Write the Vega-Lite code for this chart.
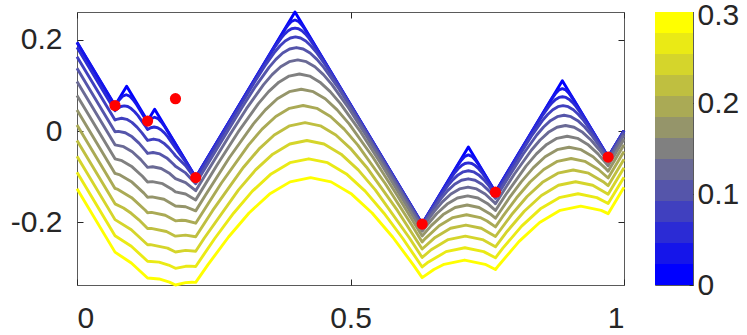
{
"$schema": "https://vega.github.io/schema/vega-lite/v6.json",
"padding": {"left": 9, "top": -1, "right": 0, "bottom": 0},
"spacing": 28,
"config": {
 "font": "Liberation Sans",
 "view": {"stroke": "#5a5a5a", "strokeWidth": 1},
 "axis": {"labelFontSize": 30, "labelColor": "#262626", "labelFont": "Liberation Sans", "tickColor": "#262626", "tickSize": -6, "domain": false, "grid": false, "title": null, "labelPadding": 12, "format": "~g"}
},
"datasets": {
"dots": [{"x":0.0695,"y":0.056},{"x":0.129,"y":0.022},{"x":0.18,"y":0.071},{"x":0.217,"y":-0.102},{"x":0.631,"y":-0.204},{"x":0.765,"y":-0.134},{"x":0.971,"y":-0.057}],
"bands": [{"t":0,"lo":0,"hi":0.02308},{"t":0.025,"lo":0.02308,"hi":0.04615},{"t":0.05,"lo":0.04615,"hi":0.06923},{"t":0.075,"lo":0.06923,"hi":0.09231},{"t":0.1,"lo":0.09231,"hi":0.11538},{"t":0.125,"lo":0.11538,"hi":0.13846},{"t":0.15,"lo":0.13846,"hi":0.16154},{"t":0.175,"lo":0.16154,"hi":0.18462},{"t":0.2,"lo":0.18462,"hi":0.20769},{"t":0.225,"lo":0.20769,"hi":0.23077},{"t":0.25,"lo":0.23077,"hi":0.25385},{"t":0.275,"lo":0.25385,"hi":0.27692},{"t":0.3,"lo":0.27692,"hi":0.3}],
"lines": [
{"t":0,"x":0,"y":0.195},{"t":0,"x":0.0695,"y":0.056},{"t":0,"x":0.0908,"y":0.0985},{"t":0,"x":0.129,"y":0.022},{"t":0,"x":0.142,"y":0.048},{"t":0,"x":0.217,"y":-0.102},{"t":0,"x":0.3985,"y":0.261},{"t":0,"x":0.631,"y":-0.204},{"t":0,"x":0.7155,"y":-0.035},{"t":0,"x":0.765,"y":-0.134},{"t":0,"x":0.8873,"y":0.1105},{"t":0,"x":0.971,"y":-0.057},{"t":0,"x":1,"y":0.001},

{"t":0.025,"x":0,"y":0.1941},{"t":0.025,"x":0.0695,"y":0.0551},{"t":0.025,"x":0.0712,"y":0.0583},{"t":0.025,"x":0.0775,"y":0.0688},{"t":0.025,"x":0.0837,"y":0.0767},{"t":0.025,"x":0.09,"y":0.0797},{"t":0.025,"x":0.0963,"y":0.0767},{"t":0.025,"x":0.1025,"y":0.0688},{"t":0.025,"x":0.1088,"y":0.0583},{"t":0.025,"x":0.129,"y":0.019},{"t":0.025,"x":0.1356,"y":0.0274},{"t":0.025,"x":0.1419,"y":0.0304},{"t":0.025,"x":0.1482,"y":0.0274},{"t":0.025,"x":0.1544,"y":0.0195},{"t":0.025,"x":0.1607,"y":0.009},{"t":0.025,"x":0.18,"y":-0.0286},{"t":0.025,"x":0.1985,"y":-0.0649},{"t":0.025,"x":0.217,"y":-0.102},{"t":0.025,"x":0.3797,"y":0.2223},{"t":0.025,"x":0.386,"y":0.2328},{"t":0.025,"x":0.3922,"y":0.2407},{"t":0.025,"x":0.3985,"y":0.2437},{"t":0.025,"x":0.4048,"y":0.2407},{"t":0.025,"x":0.411,"y":0.2328},{"t":0.025,"x":0.4173,"y":0.2223},{"t":0.025,"x":0.631,"y":-0.204},{"t":0.025,"x":0.6967,"y":-0.0737},{"t":0.025,"x":0.703,"y":-0.0632},{"t":0.025,"x":0.7092,"y":-0.0553},{"t":0.025,"x":0.7155,"y":-0.0523},{"t":0.025,"x":0.7218,"y":-0.0553},{"t":0.025,"x":0.728,"y":-0.0632},{"t":0.025,"x":0.7343,"y":-0.0737},{"t":0.025,"x":0.765,"y":-0.134},{"t":0.025,"x":0.8685,"y":0.0718},{"t":0.025,"x":0.8748,"y":0.0823},{"t":0.025,"x":0.881,"y":0.0902},{"t":0.025,"x":0.8873,"y":0.0932},{"t":0.025,"x":0.8936,"y":0.0902},{"t":0.025,"x":0.8998,"y":0.0823},{"t":0.025,"x":0.9061,"y":0.0718},{"t":0.025,"x":0.971,"y":-0.057},{"t":0.025,"x":1,"y":0.001},

{"t":0.05,"x":0,"y":0.1836},{"t":0.05,"x":0.0695,"y":0.0446},{"t":0.05,"x":0.074,"y":0.0494},{"t":0.05,"x":0.0802,"y":0.0539},{"t":0.05,"x":0.0865,"y":0.0554},{"t":0.05,"x":0.0928,"y":0.0539},{"t":0.05,"x":0.099,"y":0.0494},{"t":0.05,"x":0.1053,"y":0.0425},{"t":0.05,"x":0.1115,"y":0.0338},{"t":0.05,"x":0.124,"y":0.0127},{"t":0.05,"x":0.129,"y":0.0035},{"t":0.05,"x":0.1347,"y":0.0074},{"t":0.05,"x":0.141,"y":0.0089},{"t":0.05,"x":0.1473,"y":0.0074},{"t":0.05,"x":0.1535,"y":0.0029},{"t":0.05,"x":0.1598,"y":-0.004},{"t":0.05,"x":0.166,"y":-0.0127},{"t":0.05,"x":0.18,"y":-0.0367},{"t":0.05,"x":0.1985,"y":-0.0671},{"t":0.05,"x":0.217,"y":-0.1025},{"t":0.05,"x":0.3486,"y":0.1598},{"t":0.05,"x":0.3611,"y":0.1833},{"t":0.05,"x":0.3736,"y":0.2044},{"t":0.05,"x":0.3798,"y":0.2131},{"t":0.05,"x":0.3861,"y":0.22},{"t":0.05,"x":0.3923,"y":0.2245},{"t":0.05,"x":0.3986,"y":0.226},{"t":0.05,"x":0.4049,"y":0.2245},{"t":0.05,"x":0.4111,"y":0.22},{"t":0.05,"x":0.4174,"y":0.2131},{"t":0.05,"x":0.4236,"y":0.2044},{"t":0.05,"x":0.4361,"y":0.1833},{"t":0.05,"x":0.4486,"y":0.1598},{"t":0.05,"x":0.631,"y":-0.2041},{"t":0.05,"x":0.6655,"y":-0.1359},{"t":0.05,"x":0.678,"y":-0.1124},{"t":0.05,"x":0.6905,"y":-0.0913},{"t":0.05,"x":0.6967,"y":-0.0826},{"t":0.05,"x":0.703,"y":-0.0757},{"t":0.05,"x":0.7092,"y":-0.0712},{"t":0.05,"x":0.7155,"y":-0.0697},{"t":0.05,"x":0.7218,"y":-0.0712},{"t":0.05,"x":0.728,"y":-0.0757},{"t":0.05,"x":0.7343,"y":-0.0826},{"t":0.05,"x":0.7405,"y":-0.0913},{"t":0.05,"x":0.753,"y":-0.1124},{"t":0.05,"x":0.765,"y":-0.1349},{"t":0.05,"x":0.8375,"y":0.0092},{"t":0.05,"x":0.85,"y":0.0327},{"t":0.05,"x":0.8625,"y":0.0538},{"t":0.05,"x":0.8687,"y":0.0625},{"t":0.05,"x":0.875,"y":0.0694},{"t":0.05,"x":0.8812,"y":0.0739},{"t":0.05,"x":0.8875,"y":0.0754},{"t":0.05,"x":0.8938,"y":0.0739},{"t":0.05,"x":0.9,"y":0.0694},{"t":0.05,"x":0.9063,"y":0.0625},{"t":0.05,"x":0.9125,"y":0.0538},{"t":0.05,"x":0.925,"y":0.0327},{"t":0.05,"x":0.9375,"y":0.0092},{"t":0.05,"x":0.971,"y":-0.0571},{"t":0.05,"x":1,"y":0.0009},

{"t":0.075,"x":0,"y":0.1633},{"t":0.075,"x":0.0695,"y":0.0243},{"t":0.075,"x":0.0722,"y":0.0258},{"t":0.075,"x":0.0816,"y":0.0281},{"t":0.075,"x":0.091,"y":0.0258},{"t":0.075,"x":0.1004,"y":0.0191},{"t":0.075,"x":0.1097,"y":0.0087},{"t":0.075,"x":0.1191,"y":-0.0044},{"t":0.075,"x":0.129,"y":-0.0205},{"t":0.075,"x":0.1399,"y":-0.0175},{"t":0.075,"x":0.1493,"y":-0.0198},{"t":0.075,"x":0.1587,"y":-0.0265},{"t":0.075,"x":0.168,"y":-0.0369},{"t":0.075,"x":0.1774,"y":-0.05},{"t":0.075,"x":0.18,"y":-0.0541},{"t":0.075,"x":0.1985,"y":-0.0757},{"t":0.075,"x":0.217,"y":-0.1062},{"t":0.075,"x":0.3244,"y":0.1071},{"t":0.075,"x":0.3431,"y":0.1424},{"t":0.075,"x":0.3619,"y":0.174},{"t":0.075,"x":0.3713,"y":0.1871},{"t":0.075,"x":0.3806,"y":0.1975},{"t":0.075,"x":0.39,"y":0.2042},{"t":0.075,"x":0.3994,"y":0.2065},{"t":0.075,"x":0.4088,"y":0.2042},{"t":0.075,"x":0.4182,"y":0.1975},{"t":0.075,"x":0.4275,"y":0.1871},{"t":0.075,"x":0.4369,"y":0.174},{"t":0.075,"x":0.4557,"y":0.1424},{"t":0.075,"x":0.4744,"y":0.1071},{"t":0.075,"x":0.631,"y":-0.2048},{"t":0.075,"x":0.6405,"y":-0.1865},{"t":0.075,"x":0.6592,"y":-0.1512},{"t":0.075,"x":0.678,"y":-0.1196},{"t":0.075,"x":0.6874,"y":-0.1065},{"t":0.075,"x":0.6967,"y":-0.0961},{"t":0.075,"x":0.7061,"y":-0.0894},{"t":0.075,"x":0.7155,"y":-0.0871},{"t":0.075,"x":0.7249,"y":-0.0894},{"t":0.075,"x":0.7343,"y":-0.0961},{"t":0.075,"x":0.7436,"y":-0.1065},{"t":0.075,"x":0.753,"y":-0.1196},{"t":0.075,"x":0.765,"y":-0.1393},{"t":0.075,"x":0.8136,"y":-0.0435},{"t":0.075,"x":0.8323,"y":-0.0082},{"t":0.075,"x":0.8511,"y":0.0234},{"t":0.075,"x":0.8605,"y":0.0365},{"t":0.075,"x":0.8698,"y":0.0469},{"t":0.075,"x":0.8792,"y":0.0536},{"t":0.075,"x":0.8886,"y":0.0559},{"t":0.075,"x":0.898,"y":0.0536},{"t":0.075,"x":0.9074,"y":0.0469},{"t":0.075,"x":0.9167,"y":0.0365},{"t":0.075,"x":0.9261,"y":0.0234},{"t":0.075,"x":0.9449,"y":-0.0082},{"t":0.075,"x":0.9636,"y":-0.0435},{"t":0.075,"x":0.971,"y":-0.0579},{"t":0.075,"x":1,"y":0.0001},

{"t":0.1,"x":0,"y":0.1376},{"t":0.1,"x":0.0695,"y":-0.0015},{"t":0.1,"x":0.0758,"y":-0.0006},{"t":0.1,"x":0.0883,"y":-0.0037},{"t":0.1,"x":0.1008,"y":-0.0126},{"t":0.1,"x":0.1133,"y":-0.0264},{"t":0.1,"x":0.1258,"y":-0.044},{"t":0.1,"x":0.129,"y":-0.049},{"t":0.1,"x":0.139,"y":-0.0469},{"t":0.1,"x":0.1515,"y":-0.05},{"t":0.1,"x":0.164,"y":-0.0589},{"t":0.1,"x":0.1765,"y":-0.0727},{"t":0.1,"x":0.18,"y":-0.0773},{"t":0.1,"x":0.1985,"y":-0.0917},{"t":0.1,"x":0.217,"y":-0.1156},{"t":0.1,"x":0.3011,"y":0.0507},{"t":0.1,"x":0.3261,"y":0.0976},{"t":0.1,"x":0.3511,"y":0.1398},{"t":0.1,"x":0.3636,"y":0.1574},{"t":0.1,"x":0.3761,"y":0.1712},{"t":0.1,"x":0.3886,"y":0.1801},{"t":0.1,"x":0.4011,"y":0.1832},{"t":0.1,"x":0.4136,"y":0.1801},{"t":0.1,"x":0.4261,"y":0.1712},{"t":0.1,"x":0.4386,"y":0.1574},{"t":0.1,"x":0.4511,"y":0.1398},{"t":0.1,"x":0.4761,"y":0.0976},{"t":0.1,"x":0.5011,"y":0.0507},{"t":0.1,"x":0.631,"y":-0.2074},{"t":0.1,"x":0.6403,"y":-0.1903},{"t":0.1,"x":0.6653,"y":-0.1481},{"t":0.1,"x":0.6778,"y":-0.1305},{"t":0.1,"x":0.6903,"y":-0.1167},{"t":0.1,"x":0.7028,"y":-0.1078},{"t":0.1,"x":0.7153,"y":-0.1047},{"t":0.1,"x":0.7278,"y":-0.1078},{"t":0.1,"x":0.7403,"y":-0.1167},{"t":0.1,"x":0.7528,"y":-0.1305},{"t":0.1,"x":0.765,"y":-0.1476},{"t":0.1,"x":0.7905,"y":-0.0977},{"t":0.1,"x":0.8155,"y":-0.0508},{"t":0.1,"x":0.8405,"y":-0.0086},{"t":0.1,"x":0.853,"y":0.009},{"t":0.1,"x":0.8655,"y":0.0228},{"t":0.1,"x":0.878,"y":0.0317},{"t":0.1,"x":0.8905,"y":0.0348},{"t":0.1,"x":0.903,"y":0.0317},{"t":0.1,"x":0.9155,"y":0.0228},{"t":0.1,"x":0.928,"y":0.009},{"t":0.1,"x":0.9405,"y":-0.0086},{"t":0.1,"x":0.9655,"y":-0.0508},{"t":0.1,"x":0.971,"y":-0.0609},{"t":0.1,"x":1,"y":-0.0029},

{"t":0.125,"x":0,"y":0.1088},{"t":0.125,"x":0.0695,"y":-0.0302},{"t":0.125,"x":0.0853,"y":-0.0341},{"t":0.125,"x":0.101,"y":-0.0453},{"t":0.125,"x":0.1166,"y":-0.0625},{"t":0.125,"x":0.129,"y":-0.0797},{"t":0.125,"x":0.1383,"y":-0.0782},{"t":0.125,"x":0.1539,"y":-0.0821},{"t":0.125,"x":0.1696,"y":-0.0933},{"t":0.125,"x":0.18,"y":-0.1042},{"t":0.125,"x":0.1985,"y":-0.1129},{"t":0.125,"x":0.217,"y":-0.1308},{"t":0.125,"x":0.2786,"y":-0.0096},{"t":0.125,"x":0.3098,"y":0.0491},{"t":0.125,"x":0.3411,"y":0.1018},{"t":0.125,"x":0.3567,"y":0.1238},{"t":0.125,"x":0.3723,"y":0.141},{"t":0.125,"x":0.388,"y":0.1522},{"t":0.125,"x":0.4036,"y":0.1561},{"t":0.125,"x":0.4192,"y":0.1522},{"t":0.125,"x":0.4349,"y":0.141},{"t":0.125,"x":0.4505,"y":0.1238},{"t":0.125,"x":0.4661,"y":0.1018},{"t":0.125,"x":0.4974,"y":0.0491},{"t":0.125,"x":0.5286,"y":-0.0096},{"t":0.125,"x":0.631,"y":-0.2123},{"t":0.125,"x":0.6368,"y":-0.2024},{"t":0.125,"x":0.6524,"y":-0.1772},{"t":0.125,"x":0.668,"y":-0.1552},{"t":0.125,"x":0.6836,"y":-0.138},{"t":0.125,"x":0.6993,"y":-0.1268},{"t":0.125,"x":0.7149,"y":-0.1229},{"t":0.125,"x":0.7305,"y":-0.1268},{"t":0.125,"x":0.7462,"y":-0.138},{"t":0.125,"x":0.7618,"y":-0.1552},{"t":0.125,"x":0.765,"y":-0.1594},{"t":0.125,"x":0.7993,"y":-0.0947},{"t":0.125,"x":0.8306,"y":-0.042},{"t":0.125,"x":0.8462,"y":-0.02},{"t":0.125,"x":0.8618,"y":-0.0028},{"t":0.125,"x":0.8775,"y":0.0084},{"t":0.125,"x":0.8931,"y":0.0123},{"t":0.125,"x":0.9087,"y":0.0084},{"t":0.125,"x":0.9244,"y":-0.0028},{"t":0.125,"x":0.94,"y":-0.02},{"t":0.125,"x":0.9556,"y":-0.042},{"t":0.125,"x":0.971,"y":-0.0669},{"t":0.125,"x":1,"y":-0.0089},

{"t":0.15,"x":0,"y":0.0781},{"t":0.15,"x":0.0695,"y":-0.0609},{"t":0.15,"x":0.0821,"y":-0.065},{"t":0.15,"x":0.1008,"y":-0.0784},{"t":0.15,"x":0.1196,"y":-0.0991},{"t":0.15,"x":0.129,"y":-0.1118},{"t":0.15,"x":0.1377,"y":-0.1108},{"t":0.15,"x":0.1565,"y":-0.1154},{"t":0.15,"x":0.1752,"y":-0.1288},{"t":0.15,"x":0.18,"y":-0.1335},{"t":0.15,"x":0.1985,"y":-0.1379},{"t":0.15,"x":0.217,"y":-0.1509},{"t":0.15,"x":0.2566,"y":-0.0734},{"t":0.15,"x":0.2941,"y":-0.003},{"t":0.15,"x":0.3316,"y":0.0603},{"t":0.15,"x":0.3503,"y":0.0866},{"t":0.15,"x":0.3691,"y":0.1073},{"t":0.15,"x":0.3878,"y":0.1207},{"t":0.15,"x":0.4066,"y":0.1253},{"t":0.15,"x":0.4254,"y":0.1207},{"t":0.15,"x":0.4441,"y":0.1073},{"t":0.15,"x":0.4629,"y":0.0866},{"t":0.15,"x":0.4816,"y":0.0603},{"t":0.15,"x":0.5191,"y":-0.003},{"t":0.15,"x":0.5566,"y":-0.0734},{"t":0.15,"x":0.631,"y":-0.2199},{"t":0.15,"x":0.6392,"y":-0.2071},{"t":0.15,"x":0.6579,"y":-0.1808},{"t":0.15,"x":0.6767,"y":-0.1601},{"t":0.15,"x":0.6954,"y":-0.1467},{"t":0.15,"x":0.7142,"y":-0.1421},{"t":0.15,"x":0.733,"y":-0.1467},{"t":0.15,"x":0.7517,"y":-0.1601},{"t":0.15,"x":0.765,"y":-0.1741},{"t":0.15,"x":0.7837,"y":-0.1396},{"t":0.15,"x":0.8212,"y":-0.0763},{"t":0.15,"x":0.8399,"y":-0.05},{"t":0.15,"x":0.8587,"y":-0.0293},{"t":0.15,"x":0.8774,"y":-0.0159},{"t":0.15,"x":0.8962,"y":-0.0113},{"t":0.15,"x":0.915,"y":-0.0159},{"t":0.15,"x":0.9337,"y":-0.0293},{"t":0.15,"x":0.9525,"y":-0.05},{"t":0.15,"x":0.971,"y":-0.0761},{"t":0.15,"x":1,"y":-0.0181},

{"t":0.175,"x":0,"y":0.0462},{"t":0.175,"x":0.0695,"y":-0.0928},{"t":0.175,"x":0.0786,"y":-0.0963},{"t":0.175,"x":0.1005,"y":-0.1119},{"t":0.175,"x":0.1223,"y":-0.1361},{"t":0.175,"x":0.129,"y":-0.145},{"t":0.175,"x":0.1371,"y":-0.1442},{"t":0.175,"x":0.159,"y":-0.1496},{"t":0.175,"x":0.18,"y":-0.1644},{"t":0.175,"x":0.1985,"y":-0.1659},{"t":0.175,"x":0.217,"y":-0.175},{"t":0.175,"x":0.235,"y":-0.1401},{"t":0.175,"x":0.2787,"y":-0.0579},{"t":0.175,"x":0.3225,"y":0.0159},{"t":0.175,"x":0.3444,"y":0.0466},{"t":0.175,"x":0.3662,"y":0.0708},{"t":0.175,"x":0.3881,"y":0.0864},{"t":0.175,"x":0.41,"y":0.0918},{"t":0.175,"x":0.4319,"y":0.0864},{"t":0.175,"x":0.4538,"y":0.0708},{"t":0.175,"x":0.4756,"y":0.0466},{"t":0.175,"x":0.4975,"y":0.0159},{"t":0.175,"x":0.5413,"y":-0.0579},{"t":0.175,"x":0.585,"y":-0.1401},{"t":0.175,"x":0.631,"y":-0.2301},{"t":0.175,"x":0.6476,"y":-0.2074},{"t":0.175,"x":0.6694,"y":-0.1832},{"t":0.175,"x":0.6913,"y":-0.1676},{"t":0.175,"x":0.7132,"y":-0.1622},{"t":0.175,"x":0.7351,"y":-0.1676},{"t":0.175,"x":0.757,"y":-0.1832},{"t":0.175,"x":0.765,"y":-0.1911},{"t":0.175,"x":0.7902,"y":-0.1467},{"t":0.175,"x":0.8121,"y":-0.1113},{"t":0.175,"x":0.834,"y":-0.0806},{"t":0.175,"x":0.8558,"y":-0.0564},{"t":0.175,"x":0.8777,"y":-0.0408},{"t":0.175,"x":0.8996,"y":-0.0354},{"t":0.175,"x":0.9215,"y":-0.0408},{"t":0.175,"x":0.9434,"y":-0.0564},{"t":0.175,"x":0.9652,"y":-0.0806},{"t":0.175,"x":0.971,"y":-0.0882},{"t":0.175,"x":1,"y":-0.0302},

{"t":0.2,"x":0,"y":0.0132},{"t":0.2,"x":0.0695,"y":-0.1258},{"t":0.2,"x":0.0749,"y":-0.1281},{"t":0.2,"x":0.0999,"y":-0.146},{"t":0.2,"x":0.1249,"y":-0.1736},{"t":0.2,"x":0.129,"y":-0.179},{"t":0.2,"x":0.1363,"y":-0.1784},{"t":0.2,"x":0.1613,"y":-0.1846},{"t":0.2,"x":0.18,"y":-0.1969},{"t":0.2,"x":0.1914,"y":-0.1956},{"t":0.2,"x":0.1985,"y":-0.1961},{"t":0.2,"x":0.217,"y":-0.2021},{"t":0.2,"x":0.2634,"y":-0.115},{"t":0.2,"x":0.3134,"y":-0.0307},{"t":0.2,"x":0.3384,"y":0.0044},{"t":0.2,"x":0.3634,"y":0.032},{"t":0.2,"x":0.3884,"y":0.0499},{"t":0.2,"x":0.4134,"y":0.0561},{"t":0.2,"x":0.4384,"y":0.0499},{"t":0.2,"x":0.4634,"y":0.032},{"t":0.2,"x":0.4884,"y":0.0044},{"t":0.2,"x":0.5134,"y":-0.0307},{"t":0.2,"x":0.5634,"y":-0.115},{"t":0.2,"x":0.6134,"y":-0.2089},{"t":0.2,"x":0.631,"y":-0.2431},{"t":0.2,"x":0.6371,"y":-0.2352},{"t":0.2,"x":0.6621,"y":-0.2076},{"t":0.2,"x":0.6871,"y":-0.1897},{"t":0.2,"x":0.7121,"y":-0.1835},{"t":0.2,"x":0.7371,"y":-0.1897},{"t":0.2,"x":0.7496,"y":-0.1973},{"t":0.2,"x":0.765,"y":-0.2102},{"t":0.2,"x":0.7783,"y":-0.1873},{"t":0.2,"x":0.8033,"y":-0.1469},{"t":0.2,"x":0.8283,"y":-0.1118},{"t":0.2,"x":0.8533,"y":-0.0842},{"t":0.2,"x":0.8783,"y":-0.0663},{"t":0.2,"x":0.9033,"y":-0.0601},{"t":0.2,"x":0.9283,"y":-0.0663},{"t":0.2,"x":0.9533,"y":-0.0842},{"t":0.2,"x":0.971,"y":-0.1029},{"t":0.2,"x":1,"y":-0.0449},

{"t":0.225,"x":0,"y":-0.0206},{"t":0.225,"x":0.0695,"y":-0.1596},{"t":0.225,"x":0.085,"y":-0.1687},{"t":0.225,"x":0.0991,"y":-0.1803},{"t":0.225,"x":0.1131,"y":-0.1946},{"t":0.225,"x":0.129,"y":-0.2137},{"t":0.225,"x":0.1354,"y":-0.2133},{"t":0.225,"x":0.1635,"y":-0.2203},{"t":0.225,"x":0.18,"y":-0.2305},{"t":0.225,"x":0.1985,"y":-0.2282},{"t":0.225,"x":0.217,"y":-0.2318},{"t":0.225,"x":0.2481,"y":-0.174},{"t":0.225,"x":0.3044,"y":-0.0792},{"t":0.225,"x":0.3325,"y":-0.0397},{"t":0.225,"x":0.3606,"y":-0.0086},{"t":0.225,"x":0.3888,"y":0.0115},{"t":0.225,"x":0.4169,"y":0.0185},{"t":0.225,"x":0.445,"y":0.0115},{"t":0.225,"x":0.4732,"y":-0.0086},{"t":0.225,"x":0.5013,"y":-0.0397},{"t":0.225,"x":0.5294,"y":-0.0792},{"t":0.225,"x":0.5857,"y":-0.174},{"t":0.225,"x":0.631,"y":-0.2587},{"t":0.225,"x":0.6547,"y":-0.2332},{"t":0.225,"x":0.6829,"y":-0.2131},{"t":0.225,"x":0.711,"y":-0.2061},{"t":0.225,"x":0.7391,"y":-0.2131},{"t":0.225,"x":0.765,"y":-0.2312},{"t":0.225,"x":0.7947,"y":-0.183},{"t":0.225,"x":0.8228,"y":-0.1435},{"t":0.225,"x":0.8509,"y":-0.1124},{"t":0.225,"x":0.8791,"y":-0.0923},{"t":0.225,"x":0.9072,"y":-0.0853},{"t":0.225,"x":0.9353,"y":-0.0923},{"t":0.225,"x":0.9635,"y":-0.1124},{"t":0.225,"x":0.971,"y":-0.1198},{"t":0.225,"x":1,"y":-0.0618},

{"t":0.25,"x":0,"y":-0.0552},{"t":0.25,"x":0.0695,"y":-0.1942},{"t":0.25,"x":0.0993,"y":-0.2163},{"t":0.25,"x":0.129,"y":-0.2492},{"t":0.25,"x":0.1343,"y":-0.249},{"t":0.25,"x":0.1656,"y":-0.2567},{"t":0.25,"x":0.18,"y":-0.2653},{"t":0.25,"x":0.1985,"y":-0.2617},{"t":0.25,"x":0.217,"y":-0.2635},{"t":0.25,"x":0.2328,"y":-0.2345},{"t":0.25,"x":0.2953,"y":-0.129},{"t":0.25,"x":0.3265,"y":-0.0852},{"t":0.25,"x":0.3578,"y":-0.0506},{"t":0.25,"x":0.389,"y":-0.0283},{"t":0.25,"x":0.4203,"y":-0.0206},{"t":0.25,"x":0.4516,"y":-0.0283},{"t":0.25,"x":0.4828,"y":-0.0506},{"t":0.25,"x":0.5141,"y":-0.0852},{"t":0.25,"x":0.5453,"y":-0.129},{"t":0.25,"x":0.6078,"y":-0.2345},{"t":0.25,"x":0.631,"y":-0.2772},{"t":0.25,"x":0.6475,"y":-0.2603},{"t":0.25,"x":0.6787,"y":-0.238},{"t":0.25,"x":0.71,"y":-0.2303},{"t":0.25,"x":0.7413,"y":-0.238},{"t":0.25,"x":0.765,"y":-0.2538},{"t":0.25,"x":0.7865,"y":-0.2196},{"t":0.25,"x":0.8177,"y":-0.1758},{"t":0.25,"x":0.849,"y":-0.1412},{"t":0.25,"x":0.8802,"y":-0.1189},{"t":0.25,"x":0.9115,"y":-0.1112},{"t":0.25,"x":0.9428,"y":-0.1189},{"t":0.25,"x":0.971,"y":-0.1386},{"t":0.25,"x":1,"y":-0.0806},

{"t":0.275,"x":0,"y":-0.0905},{"t":0.275,"x":0.0695,"y":-0.2295},{"t":0.275,"x":0.0993,"y":-0.2525},{"t":0.275,"x":0.129,"y":-0.2854},{"t":0.275,"x":0.15,"y":-0.2874},{"t":0.275,"x":0.1674,"y":-0.2938},{"t":0.275,"x":0.18,"y":-0.301},{"t":0.275,"x":0.1985,"y":-0.2966},{"t":0.275,"x":0.2061,"y":-0.2961},{"t":0.275,"x":0.217,"y":-0.2969},{"t":0.275,"x":0.2518,"y":-0.2356},{"t":0.275,"x":0.2862,"y":-0.1801},{"t":0.275,"x":0.3206,"y":-0.1318},{"t":0.275,"x":0.3549,"y":-0.0939},{"t":0.275,"x":0.3893,"y":-0.0693},{"t":0.275,"x":0.4237,"y":-0.0608},{"t":0.275,"x":0.4581,"y":-0.0693},{"t":0.275,"x":0.4925,"y":-0.0939},{"t":0.275,"x":0.5268,"y":-0.1318},{"t":0.275,"x":0.5612,"y":-0.1801},{"t":0.275,"x":0.5956,"y":-0.2356},{"t":0.275,"x":0.631,"y":-0.298},{"t":0.275,"x":0.6403,"y":-0.289},{"t":0.275,"x":0.6747,"y":-0.2644},{"t":0.275,"x":0.7091,"y":-0.2559},{"t":0.275,"x":0.7435,"y":-0.2644},{"t":0.275,"x":0.765,"y":-0.278},{"t":0.275,"x":0.7785,"y":-0.2568},{"t":0.275,"x":0.8129,"y":-0.2085},{"t":0.275,"x":0.8472,"y":-0.1706},{"t":0.275,"x":0.8816,"y":-0.146},{"t":0.275,"x":0.916,"y":-0.1375},{"t":0.275,"x":0.9504,"y":-0.146},{"t":0.275,"x":0.971,"y":-0.159},{"t":0.275,"x":1,"y":-0.101},

{"t":0.3,"x":0,"y":-0.1265},{"t":0.3,"x":0.0695,"y":-0.2655},{"t":0.3,"x":0.0993,"y":-0.2894},{"t":0.3,"x":0.129,"y":-0.3222},{"t":0.3,"x":0.15,"y":-0.3244},{"t":0.3,"x":0.169,"y":-0.3314},{"t":0.3,"x":0.18,"y":-0.3376},{"t":0.3,"x":0.1985,"y":-0.3325},{"t":0.3,"x":0.2103,"y":-0.3315},{"t":0.3,"x":0.217,"y":-0.3318},{"t":0.3,"x":0.2395,"y":-0.2929},{"t":0.3,"x":0.277,"y":-0.2323},{"t":0.3,"x":0.3145,"y":-0.1796},{"t":0.3,"x":0.352,"y":-0.1382},{"t":0.3,"x":0.3895,"y":-0.1114},{"t":0.3,"x":0.427,"y":-0.1021},{"t":0.3,"x":0.4645,"y":-0.1114},{"t":0.3,"x":0.502,"y":-0.1382},{"t":0.3,"x":0.5395,"y":-0.1796},{"t":0.3,"x":0.577,"y":-0.2323},{"t":0.3,"x":0.6145,"y":-0.2929},{"t":0.3,"x":0.631,"y":-0.3214},{"t":0.3,"x":0.6524,"y":-0.3036},{"t":0.3,"x":0.6711,"y":-0.2922},{"t":0.3,"x":0.7086,"y":-0.2829},{"t":0.3,"x":0.7461,"y":-0.2922},{"t":0.3,"x":0.765,"y":-0.3036},{"t":0.3,"x":0.7708,"y":-0.2947},{"t":0.3,"x":0.8083,"y":-0.242},{"t":0.3,"x":0.8458,"y":-0.2006},{"t":0.3,"x":0.8833,"y":-0.1738},{"t":0.3,"x":0.9208,"y":-0.1645},{"t":0.3,"x":0.9583,"y":-0.1738},{"t":0.3,"x":0.971,"y":-0.1811},{"t":0.3,"x":1,"y":-0.1231}
]
},
"hconcat": [
 {
  "width": 547, "height": 273,
  "layer": [
   {
    "data": {"name": "lines"},
    "mark": {"type": "line", "strokeWidth": 2.9, "strokeJoin": "round"},
    "encoding": {
     "x": {"field": "x", "type": "quantitative", "scale": {"domain": [0, 1], "nice": false, "zero": false}, "axis": {"orient": "bottom", "values": [0, 0.5, 1], "labelPadding": 24}},
     "y": {"field": "y", "type": "quantitative", "scale": {"domain": [-0.3376, 0.2612], "nice": false, "zero": false}, "axis": {"orient": "left", "values": [-0.2, 0, 0.2], "labelPadding": 21, "labelExpr": "replace(datum.label, '\u2212', '-')"}},
     "color": {"field": "t", "type": "quantitative", "scale": {"domain": [0, 0.3], "range": ["#0000ff", "#ffff00"], "interpolate": "rgb"}, "legend": null},
     "detail": {"field": "t", "type": "quantitative"}
    }
   },
   {
    "data": {"name": "dots"},
    "mark": {"type": "circle", "size": 125, "color": "#ff0000", "opacity": 1},
    "encoding": {
     "x": {"field": "x", "type": "quantitative", "scale": {"domain": [0, 1], "nice": false, "zero": false}, "axis": {"orient": "top", "values": [0, 0.5, 1], "labels": false}},
     "y": {"field": "y", "type": "quantitative", "scale": {"domain": [-0.3376, 0.2612], "nice": false, "zero": false}, "axis": {"orient": "right", "values": [-0.2, 0, 0.2], "labels": false}}
    }
   }
  ],
  "resolve": {"axis": {"x": "independent", "y": "independent"}}
 },
 {
  "width": 38, "height": 273,
  "data": {"name": "bands"},
  "mark": {"type": "rect"},
  "encoding": {
   "y": {"field": "lo", "type": "quantitative", "scale": {"domain": [0, 0.3], "nice": false, "zero": false}, "axis": {"orient": "right", "values": [0, 0.1, 0.2, 0.3], "tickSize": -4, "labelPadding": 8, "labelOffset": {"condition": {"test": "datum.value > 0.29", "value": 3}, "value": 0}}},
   "y2": {"field": "hi"},
   "color": {"field": "t", "type": "quantitative", "scale": {"domain": [0, 0.3], "range": ["#0000ff", "#ffff00"], "interpolate": "rgb"}, "legend": null}
  }
 }
]
}
